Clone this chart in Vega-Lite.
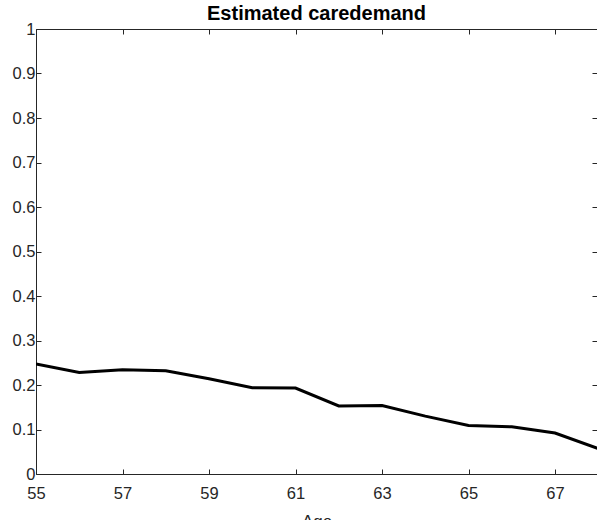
{
  "$schema": "https://vega.github.io/schema/vega-lite/v6.json",
  "width": 561,
  "height": 445,
  "autosize": {"type": "none"},
  "padding": {"left": 36, "top": 29, "right": 0, "bottom": 46},
  "background": "white",
  "config": {
    "font": "Liberation Sans",
    "view": {"stroke": null},
    "axis": {
      "grid": false,
      "domainColor": "#262626",
      "tickColor": "#262626",
      "labelColor": "#262626",
      "labelFontSize": 16.5,
      "labelFont": "Liberation Sans",
      "labelFlush": false,
      "tickSize": -5,
      "domainWidth": 1,
      "tickWidth": 1,
      "titleFont": "Liberation Sans",
      "titleFontWeight": "normal",
      "titleColor": "#262626",
      "titleFontSize": 17
    }
  },
  "title": {
    "text": "Estimated caredemand",
    "fontSize": 20,
    "fontWeight": "bold",
    "font": "Liberation Sans",
    "color": "#000000",
    "anchor": "middle",
    "offset": -19,
    "baseline": "alphabetic"
  },
  "data": {
    "values": [
      {"age": 55, "demand": 0.247},
      {"age": 56, "demand": 0.228},
      {"age": 57, "demand": 0.234},
      {"age": 58, "demand": 0.232},
      {"age": 59, "demand": 0.214},
      {"age": 60, "demand": 0.194},
      {"age": 61, "demand": 0.193},
      {"age": 62, "demand": 0.153},
      {"age": 63, "demand": 0.154},
      {"age": 64, "demand": 0.130},
      {"age": 65, "demand": 0.109},
      {"age": 66, "demand": 0.106},
      {"age": 67, "demand": 0.092},
      {"age": 68, "demand": 0.057}
    ]
  },
  "layer": [
    {
      "mark": {"type": "line", "color": "#000000", "strokeWidth": 3, "clip": true},
      "encoding": {
        "x": {
          "field": "age",
          "type": "quantitative",
          "scale": {"domain": [55, 67.97], "nice": false, "zero": false},
          "axis": {"orient": "bottom", "values": [55, 57, 59, 61, 63, 65, 67], "format": "d", "title": "Age", "labelPadding": 16, "titlePadding": 12}
        },
        "y": {
          "field": "demand",
          "type": "quantitative",
          "scale": {"domain": [0, 1], "nice": false},
          "axis": {"orient": "left", "values": [0, 0.1, 0.2, 0.3, 0.4, 0.5, 0.6, 0.7, 0.8, 0.9, 1], "format": "~g", "title": null, "labelPadding": 6}
        }
      }
    },
    {
      "mark": {"type": "line", "strokeOpacity": 0, "clip": true},
      "encoding": {
        "x": {
          "field": "age",
          "type": "quantitative",
          "scale": {"domain": [55, 67.97], "nice": false, "zero": false},
          "axis": {"orient": "top", "values": [55, 57, 59, 61, 63, 65, 67], "labels": false, "title": null}
        },
        "y": {
          "field": "demand",
          "type": "quantitative",
          "scale": {"domain": [0, 1], "nice": false},
          "axis": {"orient": "right", "values": [0, 0.1, 0.2, 0.3, 0.4, 0.5, 0.6, 0.7, 0.8, 0.9, 1], "labels": false, "title": null}
        }
      }
    }
  ],
  "resolve": {"axis": {"x": "independent", "y": "independent"}}
}
